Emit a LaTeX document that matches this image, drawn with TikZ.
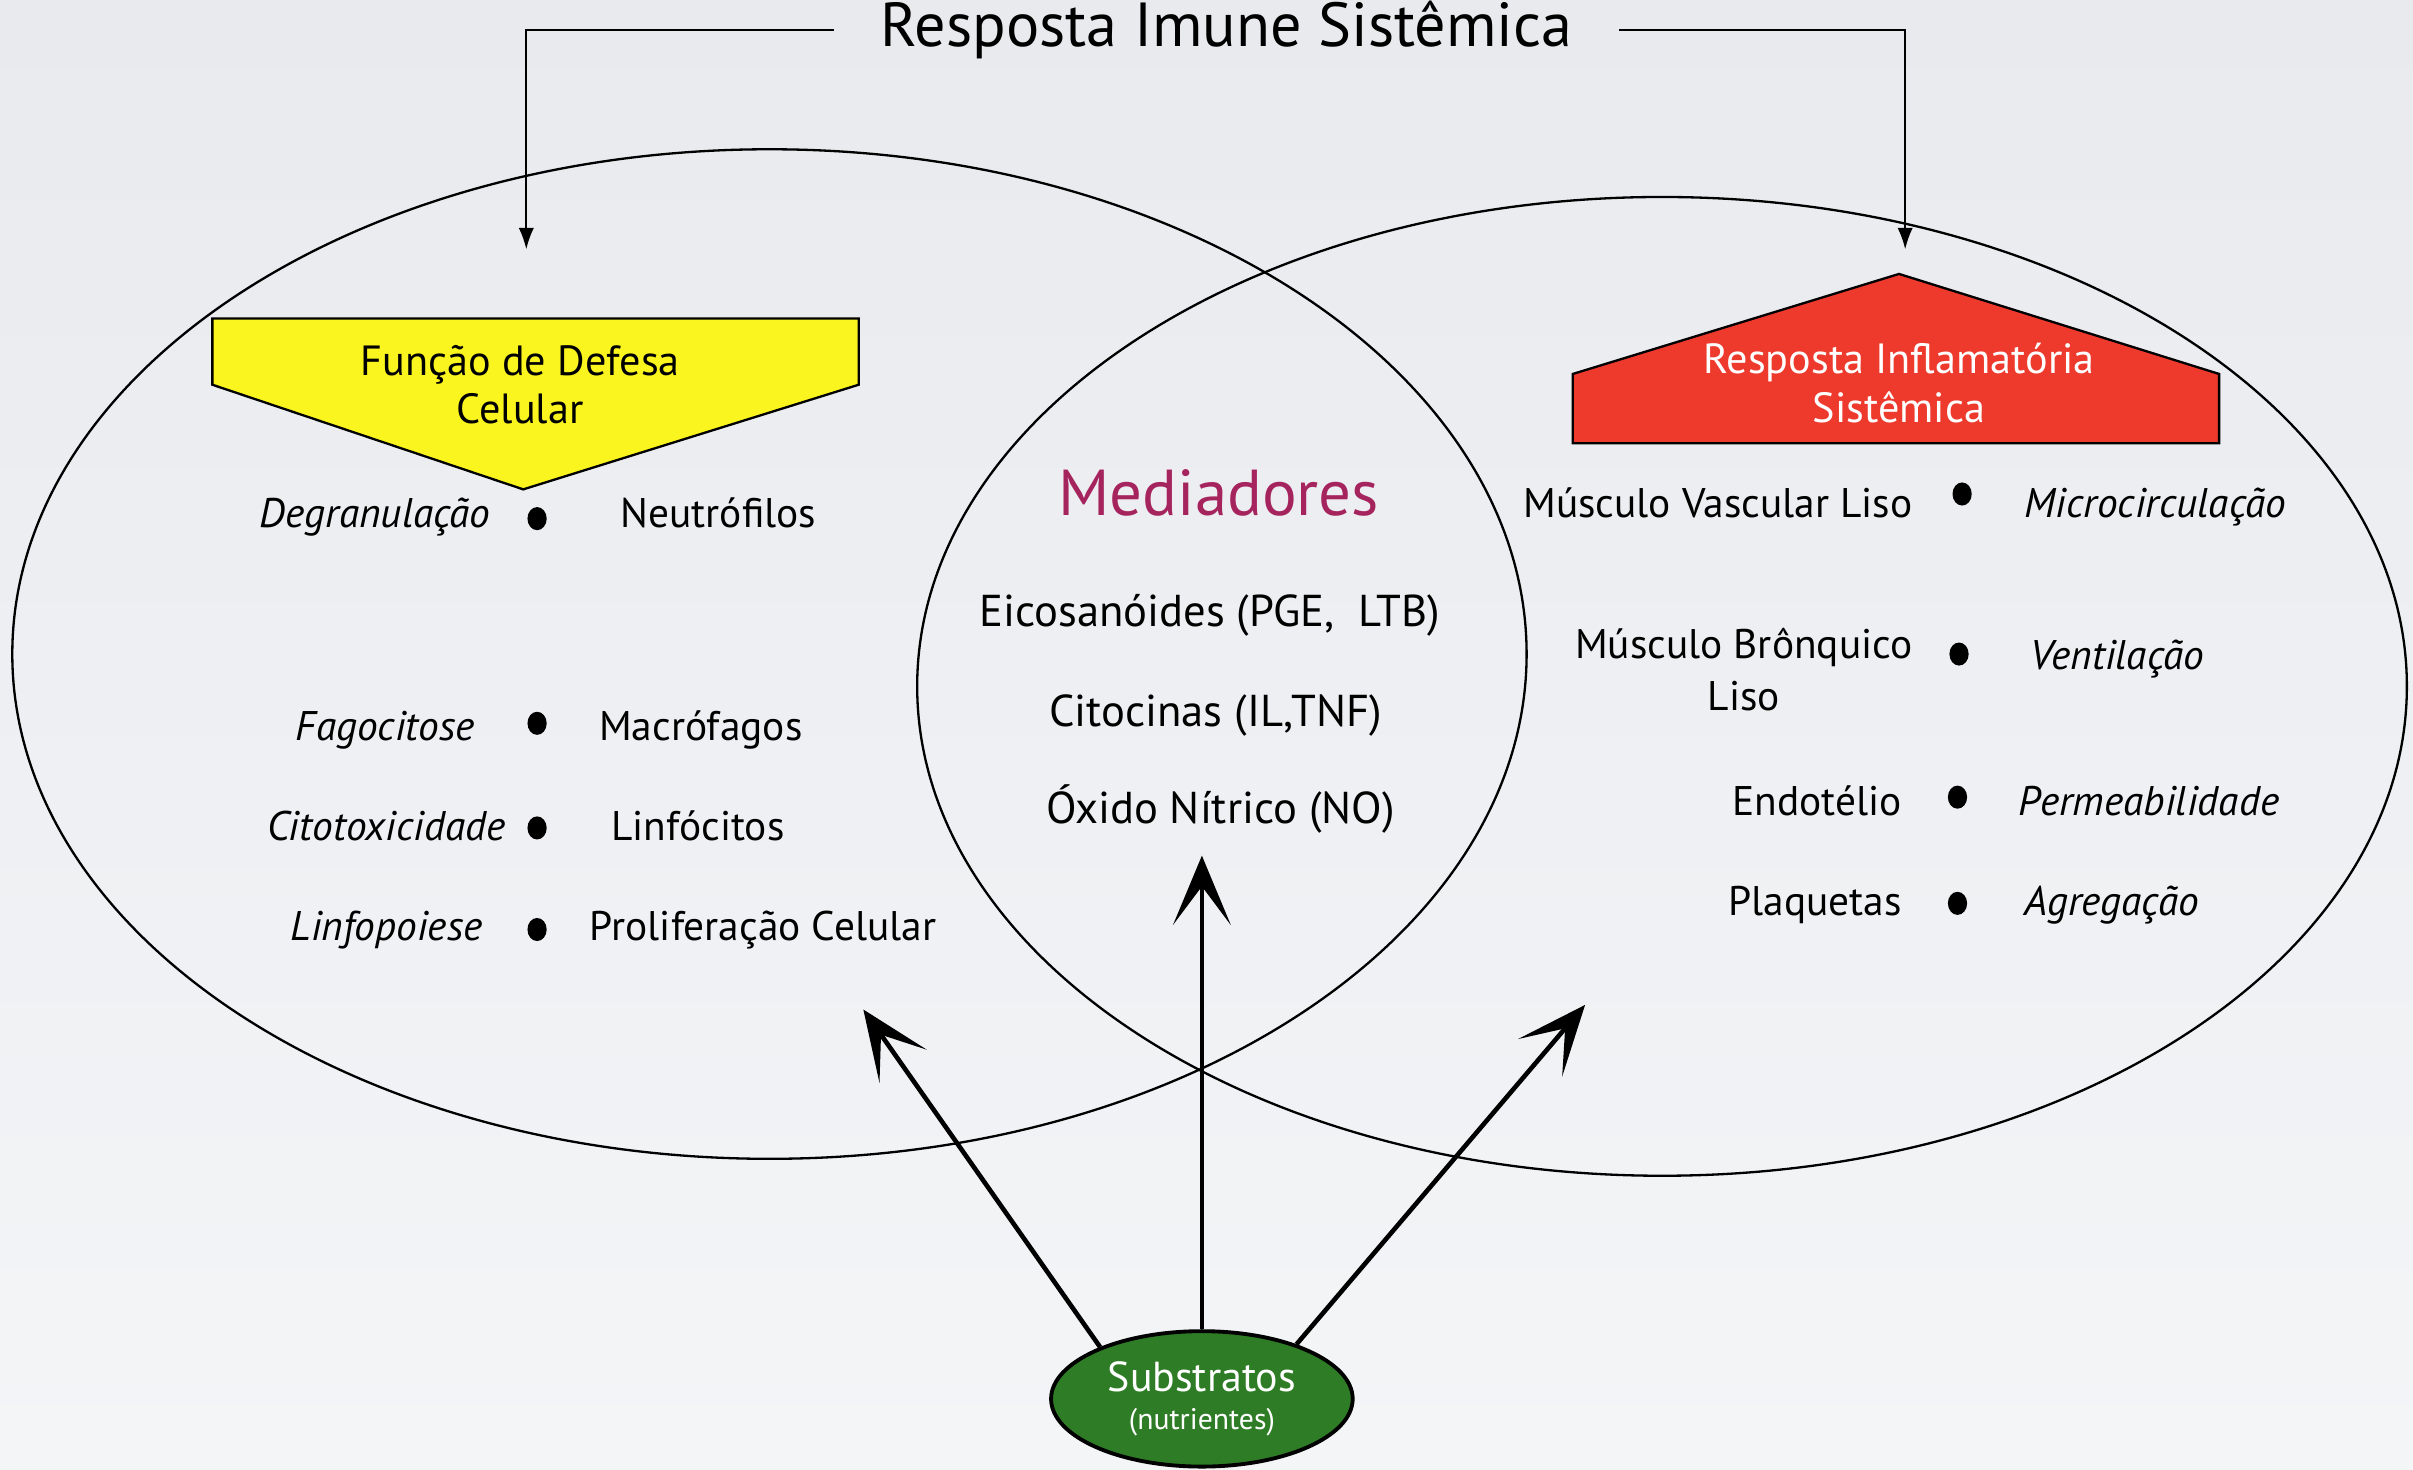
\documentclass[tikz,border=0pt]{standalone}
\usepackage{fontspec}
\setmainfont{PT Sans}
\usepackage{tikz}
\usepackage{xcolor}
\usetikzlibrary{arrows.meta, shapes.geometric, positioning}

\definecolor{fundoalto}{RGB}{232,234,238}
\definecolor{fundobaixo}{RGB}{244,245,247}
\definecolor{amarelo}{RGB}{250,245,30}
\definecolor{vermelho}{RGB}{238,58,45}
\definecolor{verde}{RGB}{46,125,38}
\definecolor{roxo}{RGB}{166,36,94}

\newcommand{\txt}{\fontsize{15.3}{19}\selectfont}

\tikzset{
    item/.style={font=\txt, inner sep=0pt},
    acao/.style={font=\txt\itshape, inner sep=0pt},
    mediador/.style={font=\fontsize{16.5}{19}\selectfont, inner sep=0pt, anchor=base},
    bloco/.style={font=\fontsize{15.6}{18}\selectfont, align=center},
    ponto/.style={ellipse, fill=black, inner sep=0pt, minimum width=2.5mm, minimum height=3mm},
    conjunto/.style={line width=0.3mm},
    fino/.style={line width=0.25mm, -{Latex[length=2.8mm, width=2mm]}},
    grosso/.style={line width=0.6mm, -{Stealth[length=9mm, width=7.5mm, inset=5mm]}}
}

\begin{document}
\begin{tikzpicture}[x=0.2mm, y=-0.2mm]
    \useasboundingbox (0,0) rectangle (1568,955);
    \shade[top color=fundoalto, bottom color=fundobaixo] (0,0) rectangle (1568,955);

    \draw[conjunto] (500,425) ellipse [x radius=98.4mm, y radius=65.6mm];
    \draw[conjunto] (1080,446) ellipse [x radius=96.8mm, y radius=63.6mm];

    \node[font=\fontsize{23}{25}\selectfont, inner xsep=6mm, inner ysep=0pt, anchor=base] (titulo) at (797,30) {Resposta Imune Sistêmica};
    \coordinate (alvoE) at (342,162);
    \coordinate (alvoD) at (1238,162);
    \draw[fino] (titulo.west) -| (alvoE);
    \draw[fino] (titulo.east) -| (alvoD);

    \draw[fill=amarelo, line width=0.3mm] (138,207) -- (558,207) -- (558,250) -- (340,318) -- (138,250) -- cycle;
    \node[bloco] (defesa) at (338,250) {Função de Defesa\\Celular};

    \draw[fill=vermelho, line width=0.3mm] (1022,288) -- (1022,243) -- (1234,178) -- (1442,243) -- (1442,288) -- cycle;
    \node[bloco, text=white] (inflam) at (1234,249) {Resposta Inflamatória\\Sistêmica};

    \node[ponto] (p1) at (349,337) {};
    \node[ponto] (p2) at (349,470) {};
    \node[ponto] (p3) at (349,538) {};
    \node[ponto] (p4) at (349,604) {};
    \node[acao, anchor=base east] (degran) at (319,343) {Degranulação};
    \node[item, anchor=base west] (neutro) at (403,343) {Neutrófilos};
    \node[acao, anchor=base east] (fago) at (309,481) {Fagocitose};
    \node[item, anchor=base west] (macro) at (389,481) {Macrófagos};
    \node[acao, anchor=base east] (citotox) at (329,546) {Citotoxicidade};
    \node[item, anchor=base west] (linfo) at (397,546) {Linfócitos};
    \node[acao, anchor=base east] (linfop) at (314,611) {Linfopoiese};
    \node[item, anchor=base west] (prolif) at (383,611) {Proliferação Celular};

    \node[font=\fontsize{24}{26}\selectfont, text=roxo, anchor=base] (mediad) at (792,335) {Mediadores};
    \node[mediador] (eicos) at (786,407) {Eicosanóides (PGE,~ LTB)};
    \node[mediador] (citoc) at (790,472) {Citocinas (IL,TNF)};
    \node[mediador] (oxido) at (793,535) {Óxido Nítrico (NO)};

    \node[ponto] (q1) at (1275,321) {};
    \node[ponto] (q2) at (1273,425) {};
    \node[ponto] (q3) at (1272,518) {};
    \node[ponto] (q4) at (1272,587) {};
    \node[item, anchor=base east] (vascular) at (1243,336) {Músculo Vascular Liso};
    \node[acao, anchor=base west] (microc) at (1315,336) {Microcirculação};
    \node[item, align=center, anchor=east] (bronq) at (1243,435) {Músculo Brônquico\\Liso};
    \node[acao, anchor=base west] (ventil) at (1319,435) {Ventilação};
    \node[item, anchor=base east] (endot) at (1236,530) {Endotélio};
    \node[acao, anchor=base west] (permea) at (1311,530) {Permeabilidade};
    \node[item, anchor=base east] (plaq) at (1236,595) {Plaquetas};
    \node[acao, anchor=base west] (agreg) at (1315,595) {Agregação};

    \node[ellipse, draw, line width=0.5mm, fill=verde, text=white, align=center,
          minimum width=39.2mm, minimum height=17.6mm, font=\fontsize{15.5}{15}\selectfont] (subs) at (781,909)
          {Substratos\\[-1pt]{\fontsize{11}{11}\selectfont (nutrientes)}};
    \coordinate (alvoL) at (561,656);
    \coordinate (alvoM) at (781,556);
    \coordinate (alvoR) at (1030,653);
    \draw[grosso] (subs.153) -- (alvoL);
    \draw[grosso] (subs.north) -- (alvoM);
    \draw[grosso] (subs.30) -- (alvoR);
\end{tikzpicture}
\end{document}
